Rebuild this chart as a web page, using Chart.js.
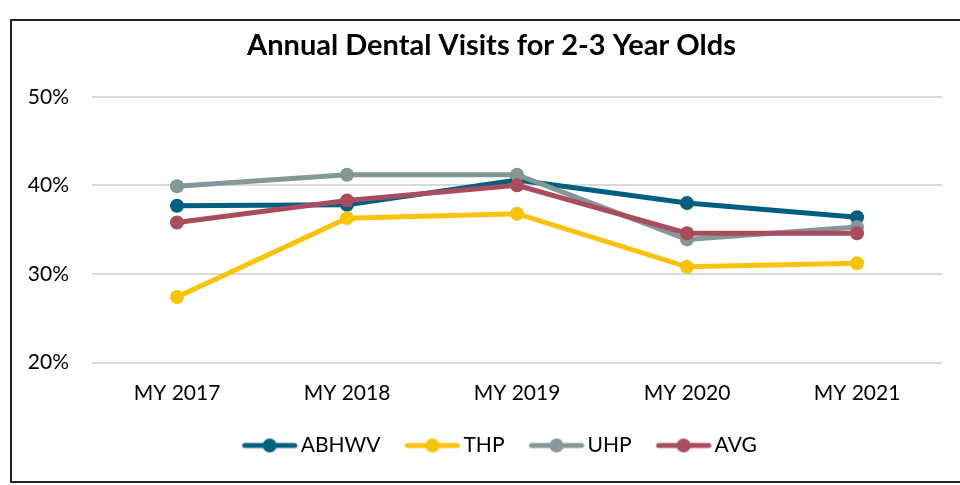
<!DOCTYPE html>
<html>
<head>
<meta charset="utf-8">
<script src="https://cdn.jsdelivr.net/npm/chart.js@4"></script>
<style>
  html, body { margin: 0; padding: 0; background: #fff; overflow: hidden; width: 960px; height: 485px; }
  #frame { position: absolute; left: 10px; top: 19px; width: 980px; height: 460px; border: 2px solid #222; }
  #wrap { position: absolute; left: 0; top: 0; width: 972px; height: 485px; }
</style>
</head>
<body>
<div id="frame"></div>
<div id="wrap"><canvas id="chart" width="972" height="485"></canvas></div>
<script>
const categories = ['MY 2017', 'MY 2018', 'MY 2019', 'MY 2020', 'MY 2021'];
const abhwv = [37.7, 37.8, 40.6, 38.0, 36.4];
const thp   = [27.4, 36.3, 36.8, 30.8, 31.2];
const uhp   = [39.9, 41.2, 41.2, 33.9, 35.3];
const avg   = [35.8, 38.3, 40.0, 34.6, 34.6];
const yTicks = [20, 30, 40, 50];

const FONT = 'Lato';

// line + dot swatch for the legend, with a blank margin on the left for spacing
function swatch(color) {
    const c = document.createElement('canvas');
    c.width = 79; c.height = 16;
    const g = c.getContext('2d');
    g.strokeStyle = color; g.lineWidth = 5; g.lineCap = 'round';
    g.beginPath(); g.moveTo(26, 8); g.lineTo(76, 8); g.stroke();
    g.fillStyle = color;
    g.beginPath(); g.arc(51, 8, 7, 0, Math.PI * 2); g.fill();
    return c;
}

function series(label, data, color, order) {
    return {
        label, data, order,
        borderColor: color, backgroundColor: color,
        borderWidth: 5, pointRadius: 7, pointBorderWidth: 0,
        pointBackgroundColor: color, tension: 0,
        legendSwatch: swatch(color)
    };
}

const ctx = document.getElementById('chart').getContext('2d');
new Chart(ctx, {
    type: 'line',
    data: {
        labels: categories,
        datasets: [
            series('ABHWV', abhwv, '#005F80', 4),
            series('THP', thp, '#F9C30C', 3),
            series('UHP', uhp, '#849799', 2),
            series('AVG', avg, '#A94C5D', 1)
        ]
    },
    options: {
        responsive: false,
        animation: false,
        layout: { padding: { left: 11, right: 0, top: 20, bottom: 19 } },
        plugins: {
            tooltip: { enabled: false },
            title: {
                display: true,
                text: 'Annual Dental Visits for 2-3 Year Olds',
                color: '#000',
                font: { family: FONT, size: 29, weight: 'bold' },
                padding: { top: 8, bottom: 34 }
            },
            legend: {
                position: 'bottom',
                labels: {
                    color: '#000',
                    font: { family: FONT, size: 21 },
                    usePointStyle: true,
                    pointStyleWidth: 64,
                    padding: 8.5,
                    generateLabels(chart) {
                        return chart.data.datasets.map((ds, i) => ({
                            text: ds.label,
                            pointStyle: ds.legendSwatch,
                            fillStyle: ds.borderColor,
                            strokeStyle: ds.borderColor,
                            lineWidth: 0,
                            fontColor: '#000',
                            hidden: false,
                            datasetIndex: i
                        }));
                    }
                }
            }
        },
        scales: {
            x: {
                offset: true,
                grid: { display: false, drawTicks: false },
                border: { display: false },
                ticks: { color: '#000', font: { family: FONT, size: 21 }, padding: 18, maxRotation: 0 },
                afterFit(s) { s.height = 64; }
            },
            y: {
                min: 20, max: 50,
                afterBuildTicks(s) { s.ticks = yTicks.map(v => ({ value: v })); },
                grid: { color: '#d9d9d9', lineWidth: 2, drawTicks: false },
                border: { display: false },
                ticks: { color: '#000', font: { family: FONT, size: 21 }, padding: 23, callback: v => v + '%' },
                afterFit(s) { s.width = 81; }
            },
            y2: {
                position: 'right',
                min: 20, max: 50,
                grid: { display: false, drawTicks: false },
                border: { display: false },
                ticks: { display: false },
                afterFit(s) { s.width = 30; }
            }
        }
    }
});
</script>
</body>
</html>
